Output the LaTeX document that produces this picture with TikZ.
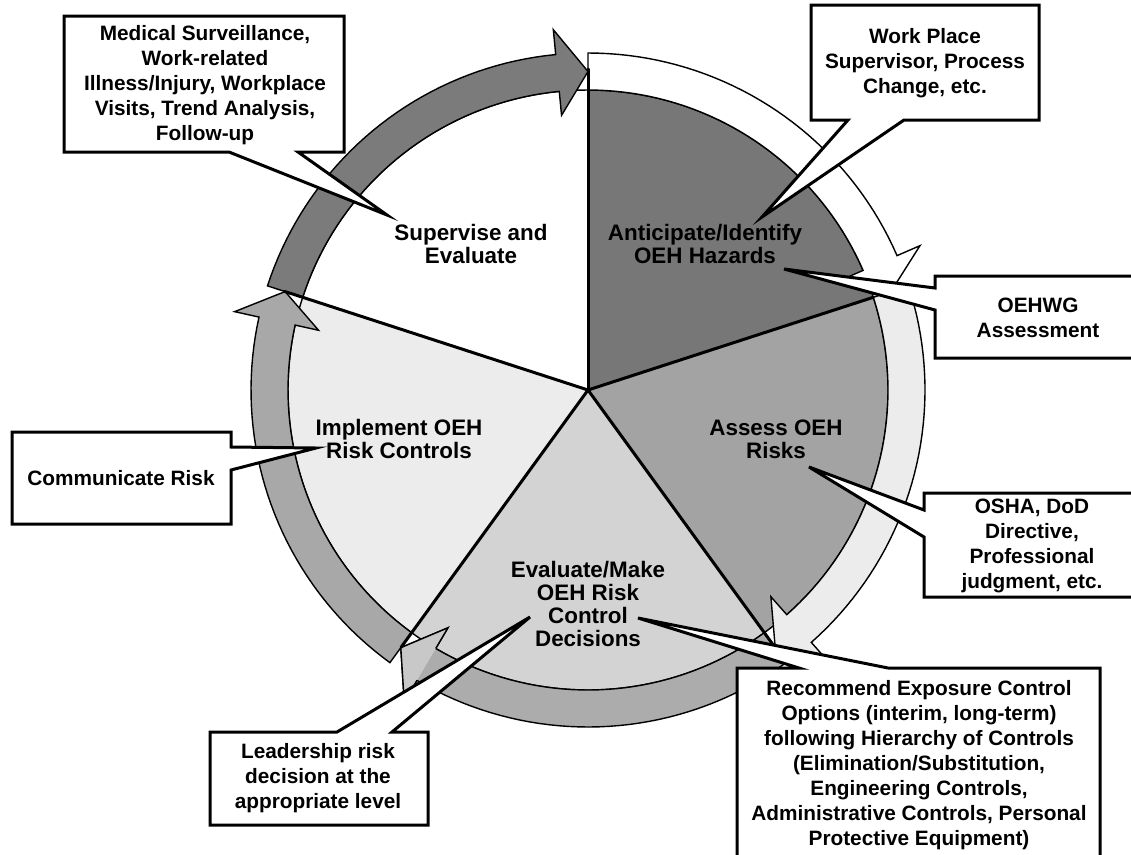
\documentclass[tikz,border=0pt]{standalone}
\usepackage{fontspec}
\setmainfont{Liberation Sans}
\definecolor{cdark}{HTML}{777777}
\definecolor{cdarkarrow}{HTML}{7B7B7B}
\definecolor{cassess}{HTML}{A3A3A3}
\definecolor{ceval}{HTML}{D3D3D3}
\definecolor{cimpl}{HTML}{ECECEC}
\definecolor{cright}{HTML}{ECECEC}
\definecolor{cbottom}{HTML}{ACACAC}
\definecolor{cbottomhead}{HTML}{C8C8C8}
\definecolor{cleft}{HTML}{A8A8A8}
\tikzset{
  slicefill/.style={draw=black, line width=1.4pt, line join=round},
  ringarrow/.style={draw=black, line width=1.4pt, line join=miter},
  divider/.style={draw=black, line width=3pt, line cap=round},
  callout/.style={draw=black, fill=white, line width=3pt, line join=miter},
  slicetext/.style={align=center, font=\bfseries\fontsize{22.4}{23.2}\selectfont, inner sep=0pt},
  callouttext/.style={align=center, font=\bfseries\fontsize{20.8}{25}\selectfont, inner sep=0pt},
}
\newcommand{\RingArrow}[3]{%
  \pgfmathsetmacro{\RAhead}{#2-5.5}%
  \filldraw[ringarrow, fill=#3] (#1:300) -- (#1:337)
    -- plot[domain=#1:\RAhead, samples=40] (\x:337)
    -- (\RAhead:362) -- (#2:318.5) -- (\RAhead:276) -- (\RAhead:300)
    -- plot[domain=\RAhead:#1, samples=40] (\x:300) -- cycle;%
}
\begin{document}
\begin{tikzpicture}[x=1pt, y=-1pt]
\useasboundingbox (0,0) rectangle (1131,854);
\clip (0,0) rectangle (1131,854);
\fill[white] (0,0) rectangle (1131,854);

\begin{scope}[shift={(588,390)}]
  \coordinate (hub) at (0,0);
  % slices
  \filldraw[slicefill, fill=white]  (hub) -- plot[domain=198:270, samples=50] (\x:300) -- cycle;
  \filldraw[slicefill, fill=cdark]  (hub) -- plot[domain=270:342, samples=50] (\x:300) -- cycle;
  \filldraw[slicefill, fill=cassess](hub) -- plot[domain=-18:54, samples=50] (\x:300) -- cycle;
  \filldraw[slicefill, fill=ceval]  (hub) -- plot[domain=54:126, samples=50] (\x:300) -- cycle;
  \filldraw[slicefill, fill=cimpl]  (hub) -- plot[domain=126:198, samples=50] (\x:300) -- cycle;
  % ring arrows
  \RingArrow{-90}{-18}{white}
  \RingArrow{-18}{54}{cright}
  \RingArrow{54}{126}{cbottom}
  \pgfmathsetmacro{\BHead}{126-5.5}
  \fill[cbottomhead] (\BHead:337) -- (\BHead:362) -- (126:318.5) -- (\BHead:276) -- (\BHead:300) -- cycle;
  \draw[ringarrow] (\BHead:337) -- (\BHead:362) -- (126:318.5) -- (\BHead:276) -- (\BHead:300);
  \RingArrow{126}{198}{cleft}
  \RingArrow{198}{270}{cdarkarrow}
  % dividers
  \draw[divider] (hub) -- (270:321);
  \draw[divider] (hub) -- (342:300);
  \draw[divider] (hub) -- (54:316);
  \draw[divider] (hub) -- (126:318);
  \draw[divider] (hub) -- (198:319);
\end{scope}

% slice labels
\node[slicetext] (supervise) at (471,244) {Supervise and\\Evaluate};
\node[slicetext] (anticipate) at (705,244) {Anticipate/Identify\\OEH Hazards};
\node[slicetext] (assess) at (776,439) {Assess OEH\\Risks};
\node[slicetext] (evaluate) at (588,604) {Evaluate/Make\\OEH Risk\\Control\\Decisions};
\node[slicetext] (implement) at (399,439) {Implement OEH\\Risk Controls};

% callouts
\draw[callout] (64,16) -- (344,16) -- (344,152) -- (298,152) -- (387,215) -- (229,152) -- (64,152) -- cycle;
\node[callouttext] (medical) at (205,85) {Medical Surveillance,\\Work-related\\Illness/Injury, Workplace\\Visits, Trend Analysis,\\Follow-up};

\draw[callout] (811,5) -- (1039,5) -- (1039,120) -- (904,120) -- (762,217) -- (848,120) -- (811,120) -- cycle;
\node[callouttext] (workplace) at (925,63) {Work Place\\Supervisor, Process\\Change, etc.};

\draw[callout] (935,276) -- (1150,276) -- (1150,358) -- (935,358) -- (935,310) -- (784,269) -- (935,288) -- cycle;
\node[callouttext] (oehwg) at (1038,318) {OEHWG\\Assessment};

\draw[callout] (924,493) -- (1150,493) -- (1150,597) -- (924,597) -- (924,537) -- (809,467) -- (924,510) -- cycle;
\node[callouttext] (osha) at (1032,546) {OSHA, DoD\\Directive,\\Professional\\judgment, etc.};

\draw[callout] (737,668) -- (799,668) -- (638,618) -- (888,668) -- (1100,668) -- (1100,900) -- (737,900) -- cycle;
\node[callouttext] (recommend) at (919,765) {Recommend Exposure Control\\Options (interim, long-term)\\following Hierarchy of Controls\\(Elimination/Substitution,\\Engineering Controls,\\Administrative Controls, Personal\\Protective Equipment)};

\draw[callout] (210,732) -- (337,732) -- (530,617) -- (392,732) -- (428,732) -- (428,825) -- (210,825) -- cycle;
\node[callouttext] (leadership) at (318,778) {Leadership risk\\decision at the\\appropriate level};

\draw[callout] (12,432) -- (231,432) -- (231,447) -- (316,448) -- (231,470) -- (231,524) -- (12,524) -- cycle;
\node[callouttext] (communicate) at (121,478) {Communicate Risk};
\end{tikzpicture}
\end{document}
